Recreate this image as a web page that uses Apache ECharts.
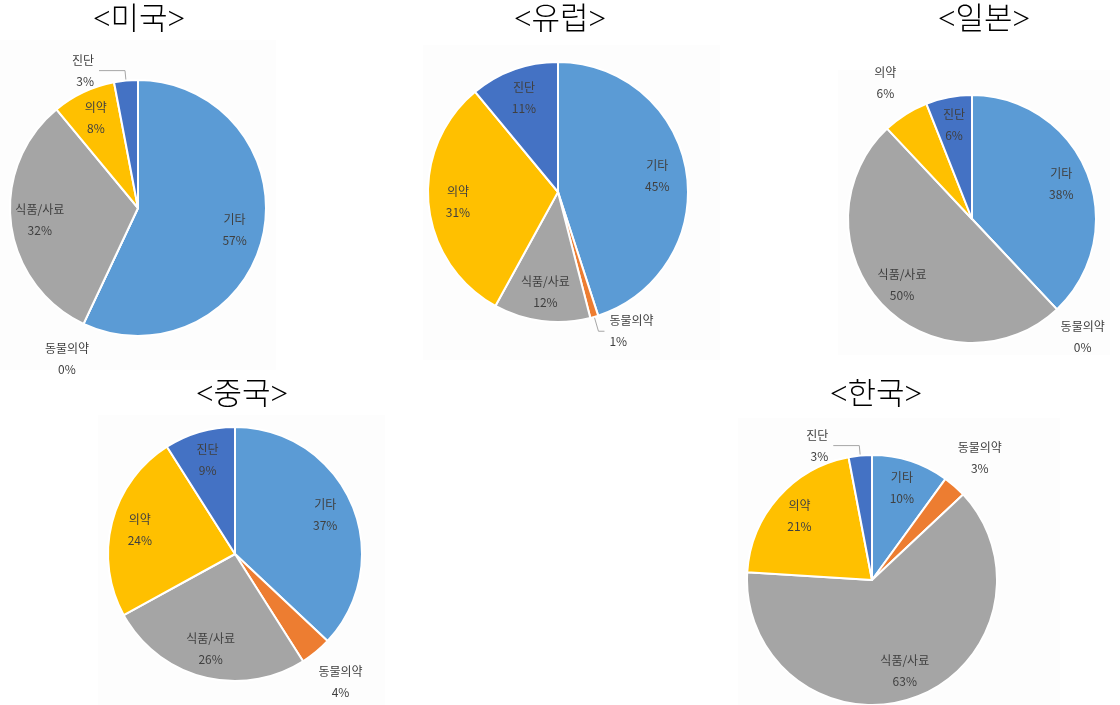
<!DOCTYPE html>
<html>
<head>
<meta charset="utf-8">
<script src="https://cdn.jsdelivr.net/npm/echarts@6/dist/echarts.min.js"></script>
<style>
  html, body { margin: 0; padding: 0; background: #ffffff; }
  #chart { width: 1120px; height: 705px; }
</style>
</head>
<body>
<div id="chart"></div>
<script>
// Segment shares (%) by region, in clockwise order from 12 o'clock
const categories = ['기타', '동물의약', '식품/사료', '의약', '진단'];
const usShare = [57, 0, 32, 8, 3];
const euShare = [45, 1, 12, 31, 11];
const jpShare = [38, 0, 50, 6, 6];
const cnShare = [37, 4, 26, 24, 9];
const krShare = [10, 3, 63, 21, 3];
const regionTitles = ['<미국>', '<유럽>', '<일본>', '<중국>', '<한국>'];

const sliceColors = ['#5B9BD5', '#ED7D31', '#A5A5A5', '#FFC000', '#4472C4'];

// Label style per slice: 'in' = inside the slice, 'out' = outside without line,
// 'line' = outside with leader line
const labelModes = [
  ['in', 'out', 'in', 'in', 'line'],
  ['in', 'line', 'in', 'in', 'in'],
  ['in', 'out', 'in', 'out', 'in'],
  ['in', 'out', 'in', 'in', 'in'],
  ['in', 'out', 'in', 'in', 'line']
];

// Panel layout: pie centre, radius, title position, faint panel box, leader line lengths
const panels = [
  { cx: 138, cy: 208, r: 128, tx: 139, ty: 21, box: [0, 40, 276, 330], lead: [10, 26] },
  { cx: 558, cy: 192, r: 130, tx: 560, ty: 21, box: [423, 45, 297, 315], lead: [15, 6] },
  { cx: 972, cy: 219, r: 124, tx: 984, ty: 21, box: [838, 70, 272, 285], lead: [10, 20] },
  { cx: 235, cy: 554, r: 127, tx: 242, ty: 396, box: [98, 415, 287, 290], lead: [10, 20] },
  { cx: 872, cy: 580, r: 125, tx: 876, ty: 396, box: [738, 418, 322, 287], lead: [10, 26] }
];

const shares = [usShare, euShare, jpShare, cnShare, krShare];

const labelFont = {
  fontFamily: '"Noto Sans CJK KR", "Noto Sans", sans-serif',
  fontSize: 12,
  lineHeight: 21,
  color: '#404040'
};

const INNER_K = 0.75;   // inside label distance as a fraction of radius
const OUTER_K = 1.28;   // outside (no line) label distance

const series = [];
panels.forEach((p, i) => {
  const values = shares[i];
  const modes = labelModes[i];
  // Slices, with leader-line labels where needed
  series.push({
    type: 'pie',
    center: [p.cx, p.cy],
    radius: [0, p.r],
    startAngle: 90,
    clockwise: true,
    avoidLabelOverlap: false,
    silent: true,
    animation: false,
    data: categories.map((name, k) => ({
      name: name,
      value: values[k],
      itemStyle: { color: sliceColors[k], borderColor: '#ffffff', borderWidth: 2 },
      label: modes[k] === 'line'
        ? Object.assign({ show: true, position: 'outside', formatter: '{b}\n{c}%', align: 'center' }, labelFont)
        : { show: false },
      labelLine: modes[k] === 'line'
        ? { show: true, length: p.lead[0], length2: p.lead[1], lineStyle: { color: '#A6A6A6', width: 1 } }
        : { show: false }
    }))
  });
  // Transparent label rings: inside labels and outside labels without lines
  [['in', INNER_K], ['out', OUTER_K]].forEach(([mode, k]) => {
    series.push({
      type: 'pie',
      center: [p.cx, p.cy],
      radius: [0, p.r * k * 2],
      startAngle: 90,
      clockwise: true,
      avoidLabelOverlap: false,
      silent: true,
      animation: false,
      z: 5,
      data: categories.map((name, j) => ({
        name: name,
        value: values[j],
        itemStyle: { color: 'rgba(0,0,0,0)', borderWidth: 0 },
        label: modes[j] === mode
          ? Object.assign({ show: true, position: 'inside', formatter: '{b}\n{c}%' }, labelFont)
          : { show: false },
        labelLine: { show: false }
      }))
    });
  });
});

const graphics = [];
panels.forEach((p, i) => {
  graphics.push({
    type: 'rect', z: -10,
    shape: { x: p.box[0], y: p.box[1], width: p.box[2], height: p.box[3] },
    style: { fill: '#fdfdfd' }
  });
  graphics.push({
    type: 'text', z: 10,
    x: p.tx, y: p.ty,
    style: {
      text: regionTitles[i],
      font: '300 31px "Liberation Serif", "Noto Sans CJK KR", serif',
      fill: '#000000',
      textAlign: 'center',
      textVerticalAlign: 'middle'
    }
  });
});

const chart = echarts.init(document.getElementById('chart'), null, { renderer: 'canvas' });
chart.setOption({
  backgroundColor: '#ffffff',
  animation: false,
  graphic: graphics,
  series: series
});
</script>
</body>
</html>
